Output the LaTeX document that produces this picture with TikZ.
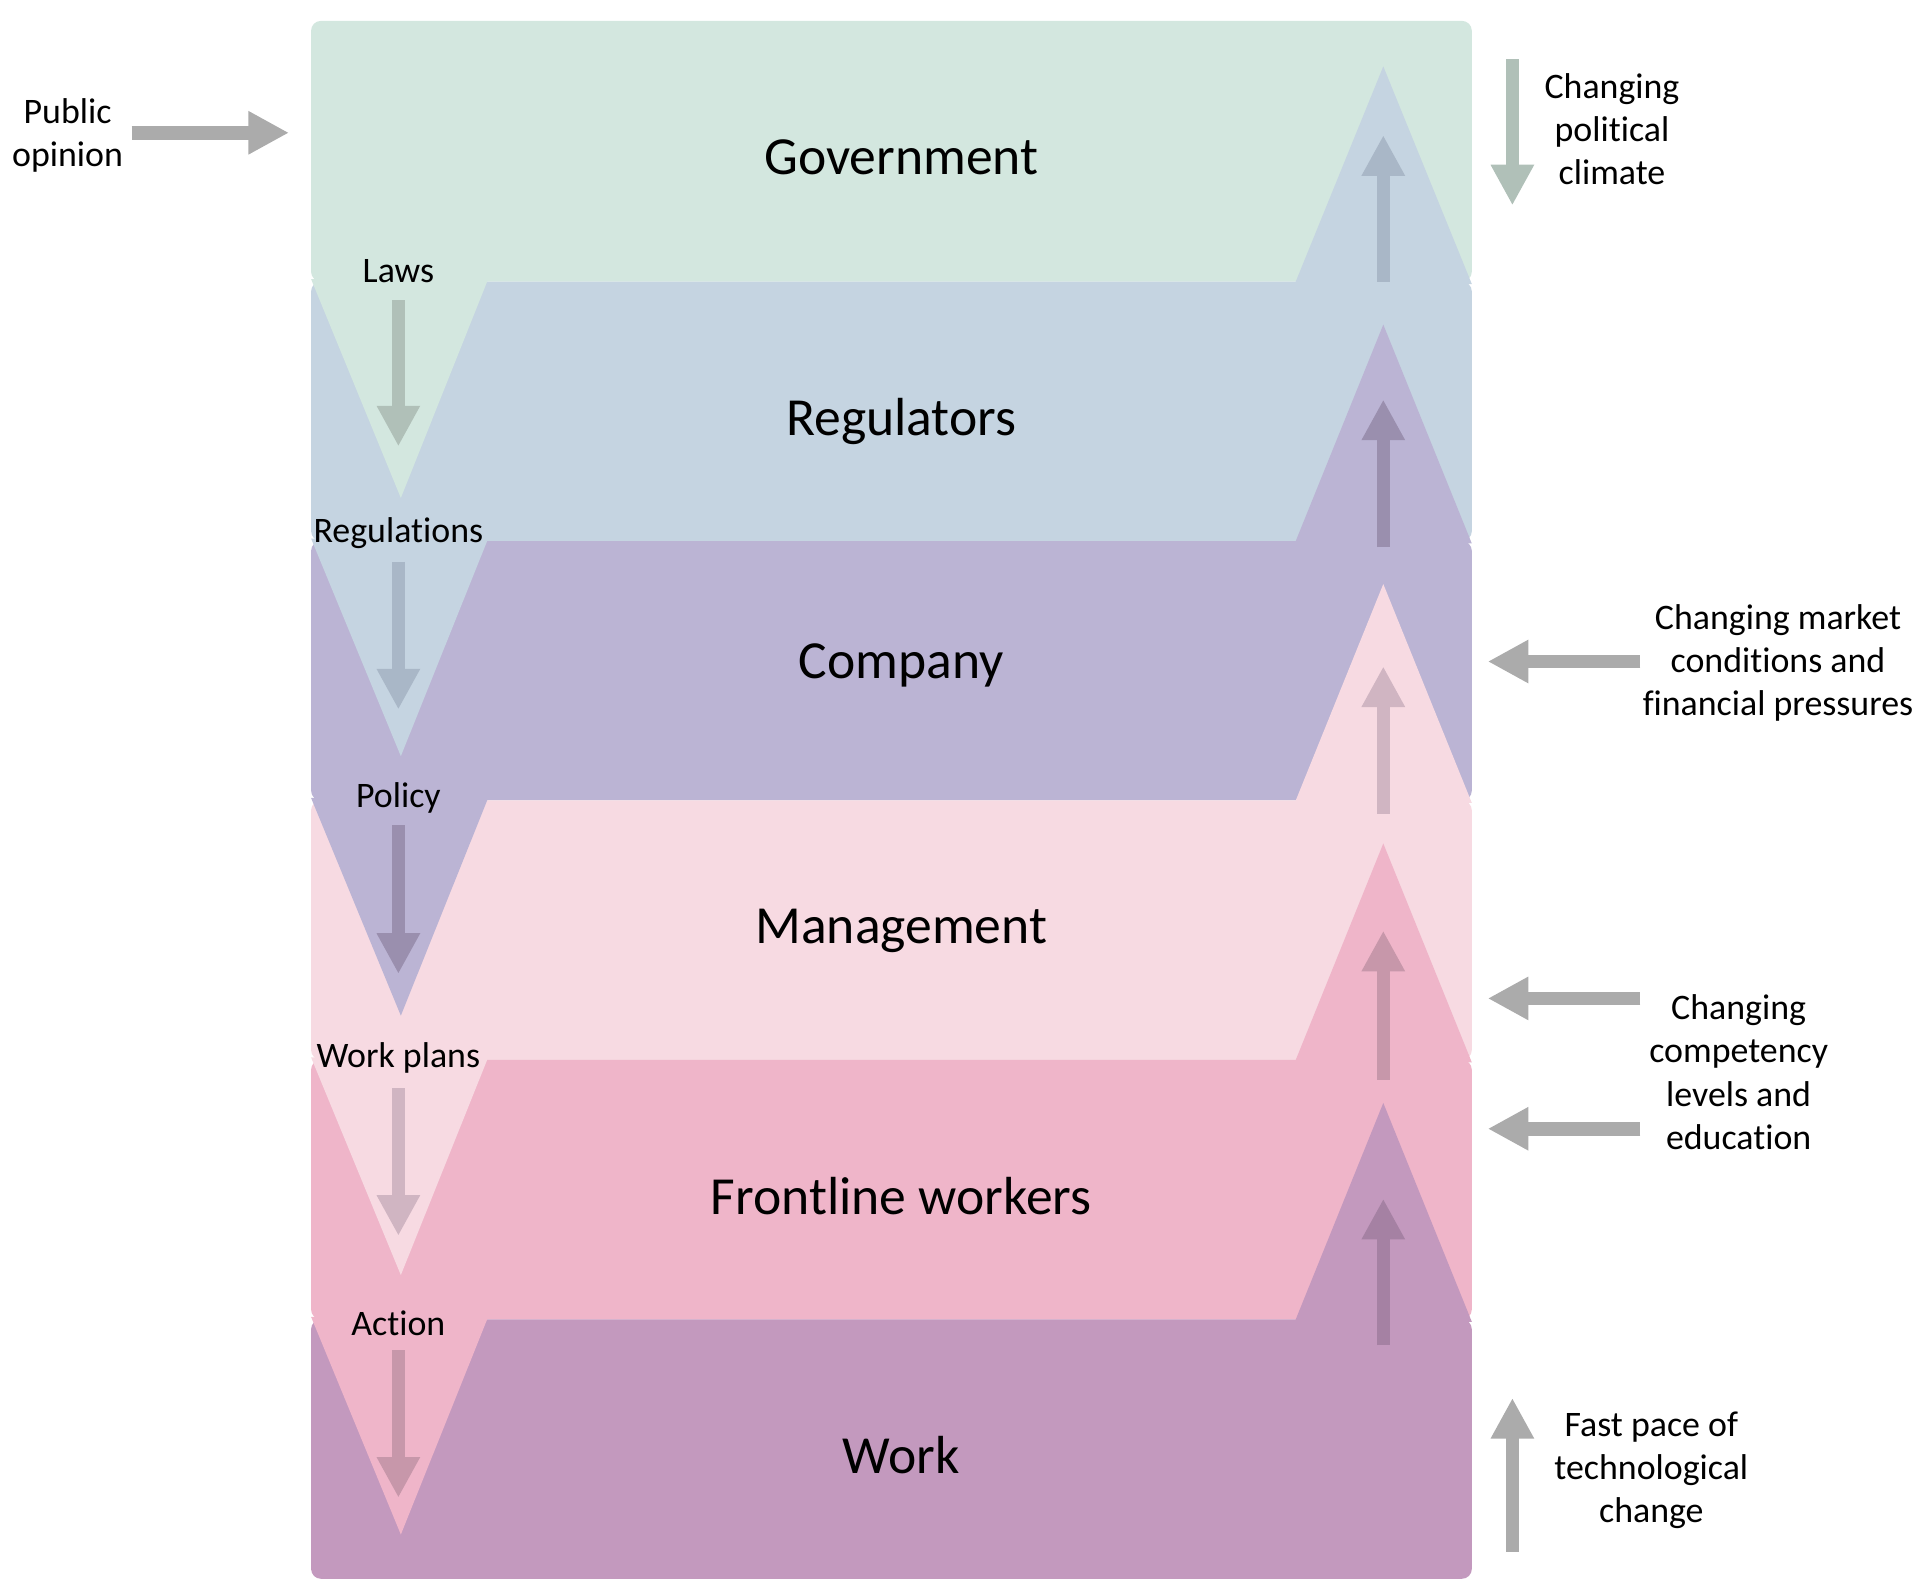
\documentclass[tikz,border=0pt]{standalone}
\usepackage{fontspec}
\setmainfont{Carlito}[Ligatures=NoCommon]
\usepackage{tikz}
\usetikzlibrary{arrows.meta,positioning}
\usepackage{xcolor}

\definecolor{govfill}{HTML}{D3E7DF}
\definecolor{regfill}{HTML}{C5D4E1}
\definecolor{compfill}{HTML}{BBB4D4}
\definecolor{mgmtfill}{HTML}{F7DAE2}
\definecolor{frontfill}{HTML}{EFB5C9}
\definecolor{workfill}{HTML}{C399BE}
\definecolor{govarrow}{HTML}{B0C0B8}
\definecolor{regarrow}{HTML}{A9B7C7}
\definecolor{comparrow}{HTML}{9A8FAE}
\definecolor{mgmtarrow}{HTML}{D0B5C2}
\definecolor{frontarrow}{HTML}{C797AA}
\definecolor{workarrow}{HTML}{A581A3}
\definecolor{sidegrey}{HTML}{ABABAB}

\begin{document}
\begin{tikzpicture}[
  x=0.1mm, y=-0.1mm,
  band/.style={rounded corners=0.8mm},
  level/.style={font=\fontsize{12.4}{15}\selectfont, anchor=base, inner sep=0pt},
  flow/.style={font=\fontsize{8.3}{10}\selectfont, anchor=base, inner sep=0pt},
  side/.style={font=\fontsize{8.3}{9.96}\selectfont, align=center, inner sep=0pt},
  blockarrow/.style={-{Triangle[length=3.3mm, width=3.3mm]}, line width=1.1mm}
]
\useasboundingbox (0,0) rectangle (1568,1296);

% levels
\fill[band, govfill] (253,17) rectangle (1197,229);
\fill[band, regfill] (253,229) rectangle (1197,440);
\fill[band, compfill] (253,440) rectangle (1197,651);
\fill[band, mgmtfill] (253,651) rectangle (1197,862);
\fill[band, frontfill] (253,862) rectangle (1197,1073);
\fill[band, workfill] (253,1073) rectangle (1197,1284);

% downward wedges on the left
\fill[govfill] (253,227) -- (397,227) -- (326,405) -- cycle;
\fill[regfill] (253,438) -- (397,438) -- (326,615) -- cycle;
\fill[compfill] (253,649) -- (397,649) -- (326,826) -- cycle;
\fill[mgmtfill] (253,860) -- (397,860) -- (326,1037) -- cycle;
\fill[frontfill] (253,1071) -- (397,1071) -- (326,1248) -- cycle;

% upward wedges on the right
\fill[regfill] (1053,231) -- (1197,231) -- (1125,54) -- cycle;
\fill[compfill] (1053,442) -- (1197,442) -- (1125,264) -- cycle;
\fill[mgmtfill] (1053,653) -- (1197,653) -- (1125,475) -- cycle;
\fill[frontfill] (1053,864) -- (1197,864) -- (1125,686) -- cycle;
\fill[workfill] (1053,1075) -- (1197,1075) -- (1125,897) -- cycle;

\node[level] (gov) at (733,142) {Government};
\node[level] (reg) at (733,354) {Regulators};
\node[level] (comp) at (733,552) {Company};
\node[level] (mgmt) at (733,767) {Management};
\node[level] (front) at (733,988) {Frontline workers};
\node[level] (work) at (733,1198) {Work};

\node[flow] (laws) at (324,230) {Laws};
\node[flow] (regs) at (324,441) {Regulations};
\node[flow] (policy) at (324,657) {Policy};
\node[flow] (plans) at (324,868) {Work plans};
\node[flow] (action) at (324,1086) {Action};

% downward flow
\coordinate (lawsA) at (324,244);   \coordinate (lawsB) at (324,363);
\coordinate (regsA) at (324,457);   \coordinate (regsB) at (324,577);
\coordinate (policyA) at (324,671); \coordinate (policyB) at (324,792);
\coordinate (plansA) at (324,885);  \coordinate (plansB) at (324,1005);
\coordinate (actionA) at (324,1098);\coordinate (actionB) at (324,1218);
\draw[blockarrow, govarrow] (lawsA) -- (lawsB);
\draw[blockarrow, regarrow] (regsA) -- (regsB);
\draw[blockarrow, comparrow] (policyA) -- (policyB);
\draw[blockarrow, mgmtarrow] (plansA) -- (plansB);
\draw[blockarrow, frontarrow] (actionA) -- (actionB);

% upward feedback
\coordinate (fbRegA) at (1125,229);   \coordinate (fbRegB) at (1125,110);
\coordinate (fbCompA) at (1125,445);  \coordinate (fbCompB) at (1125,325);
\coordinate (fbMgmtA) at (1125,662);  \coordinate (fbMgmtB) at (1125,542);
\coordinate (fbFrontA) at (1125,878); \coordinate (fbFrontB) at (1125,757);
\coordinate (fbWorkA) at (1125,1094); \coordinate (fbWorkB) at (1125,975);
\draw[blockarrow, regarrow] (fbRegA) -- (fbRegB);
\draw[blockarrow, comparrow] (fbCompA) -- (fbCompB);
\draw[blockarrow, mgmtarrow] (fbMgmtA) -- (fbMgmtB);
\draw[blockarrow, frontarrow] (fbFrontA) -- (fbFrontB);
\draw[blockarrow, workarrow] (fbWorkA) -- (fbWorkB);

% external pressures
\node[side] (pub) at (55,110) {Public\\opinion};
\node[side] (pol) at (1311,105) {Changing\\political\\climate};
\node[side] (mkt) at (1446,539) {Changing market\\conditions and\\financial pressures};
\node[side] (compet) at (1414,872) {Changing\\competency\\levels and\\education};
\node[side] (tech) at (1343,1196) {Fast pace of\\technological\\change};

\coordinate (pubA) at (107,108);   \coordinate (pubB) at (235,108);
\coordinate (polA) at (1230,48);   \coordinate (polB) at (1230,167);
\coordinate (mktA) at (1334,538);  \coordinate (mktB) at (1210,538);
\coordinate (cmpA) at (1334,812);  \coordinate (cmpB) at (1210,812);
\coordinate (edA) at (1334,918);   \coordinate (edB) at (1210,918);
\coordinate (techA) at (1230,1262);\coordinate (techB) at (1230,1137);
\draw[blockarrow, sidegrey] (pubA) -- (pubB);
\draw[blockarrow, govarrow] (polA) -- (polB);
\draw[blockarrow, sidegrey] (mktA) -- (mktB);
\draw[blockarrow, sidegrey] (cmpA) -- (cmpB);
\draw[blockarrow, sidegrey] (edA) -- (edB);
\draw[blockarrow, sidegrey] (techA) -- (techB);
\end{tikzpicture}
\end{document}
